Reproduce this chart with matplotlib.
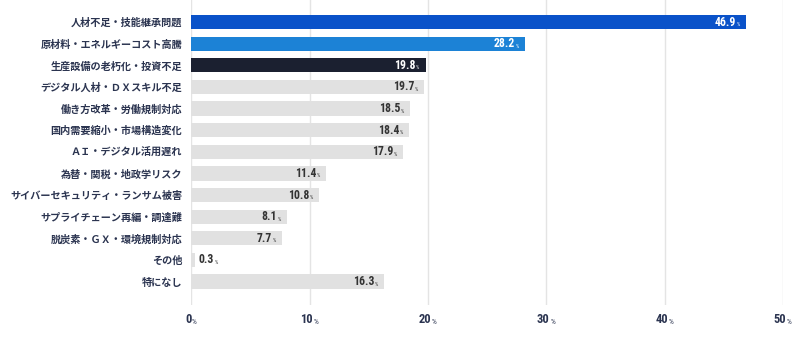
import matplotlib
matplotlib.use("Agg")
import matplotlib.pyplot as plt
from matplotlib import font_manager

plt.rcParams['font.family'] = ['Noto Sans CJK JP', 'DejaVu Sans']

categories = ['人材不足・技能継承問題', '原材料・エネルギーコスト高騰', '生産設備の老朽化・投資不足',
              'デジタル人材・ＤＸスキル不足', '働き方改革・労働規制対応', '国内需要縮小・市場構造変化',
              'ＡＩ・デジタル活用遅れ', '為替・関税・地政学リスク', 'サイバーセキュリティ・ランサム被害',
              'サプライチェーン再編・調達難', '脱炭素・ＧＸ・環境規制対応', 'その他', '特になし']
values = [46.9, 28.2, 19.8, 19.7, 18.5, 18.4, 17.9, 11.4, 10.8, 8.1, 7.7, 0.3, 16.3]
bar_colors = ['#0a52c9', '#1c82d6', '#1b2030'] + ['#e1e1e1'] * 10
xticks = [0, 10, 20, 30, 40, 50]

NAVY = '#2b3450'

# pick a narrow font for the numbers if one is installed
installed = set(f.name for f in font_manager.fontManager.ttflist)
NUMFONT = 'Roboto'
for name in ['Liberation Sans Narrow', 'DejaVu Sans Condensed', 'Roboto Condensed', 'Roboto']:
    if name in installed:
        NUMFONT = name
        break

fig = plt.figure(figsize=(8, 3.38), dpi=100)
ax = fig.add_axes([0.239, 0.098, 0.740, 0.902])

y = list(range(len(categories)))
ax.barh(y, values, height=0.66, color=bar_colors, zorder=2)

ax.set_xlim(0, 50)
ax.set_ylim(13.08, -1.02)
ax.set_xticks(xticks)
ax.set_xticklabels([])
ax.set_yticks(y)
ax.set_yticklabels(categories, fontsize=7.3, fontweight='bold', color=NAVY)
ax.tick_params(axis='y', length=0, pad=6.5)
ax.tick_params(axis='x', length=0)
ax.grid(axis='x', color='#e4e4e4', linewidth=1, zorder=0)
for s in ax.spines.values():
    s.set_visible(False)

# numbers first, small % signs placed after measuring them
nums = []
for t in xticks:
    tx = ax.annotate(str(t), xy=(t, 0), xycoords=('data', 'axes fraction'),
                     xytext=(-3, -15), textcoords='offset pixels', ha='center', va='center',
                     fontsize=9, fontweight='bold', color=NAVY, family=NUMFONT)
    nums.append((tx, NAVY, 5.5))

for i, v in enumerate(values):
    tc = 'white' if i < 3 else '#333333'
    if v > 3:
        tx = ax.annotate(f'{v}', xy=(v, i), xytext=(-10, 0), textcoords='offset pixels',
                         ha='right', va='center', fontsize=8.5, fontweight='bold', color=tc, family=NUMFONT)
    else:
        tx = ax.annotate(f'{v}', xy=(v, i), xytext=(4, 0), textcoords='offset pixels',
                         ha='left', va='center', fontsize=8.5, fontweight='bold', color=tc, family=NUMFONT)
    nums.append((tx, tc, 3.8))

fig.canvas.draw()
renderer = fig.canvas.get_renderer()
for tx, c, fs in nums:
    bb = tx.get_window_extent(renderer)
    fig.text((bb.x1 + 0.5) / fig.bbox.width, (bb.y0 + 1.5) / fig.bbox.height, '%',
             ha='left', va='bottom', fontsize=fs, color=c, family=NUMFONT)

fig.savefig('out.png', dpi=100)
